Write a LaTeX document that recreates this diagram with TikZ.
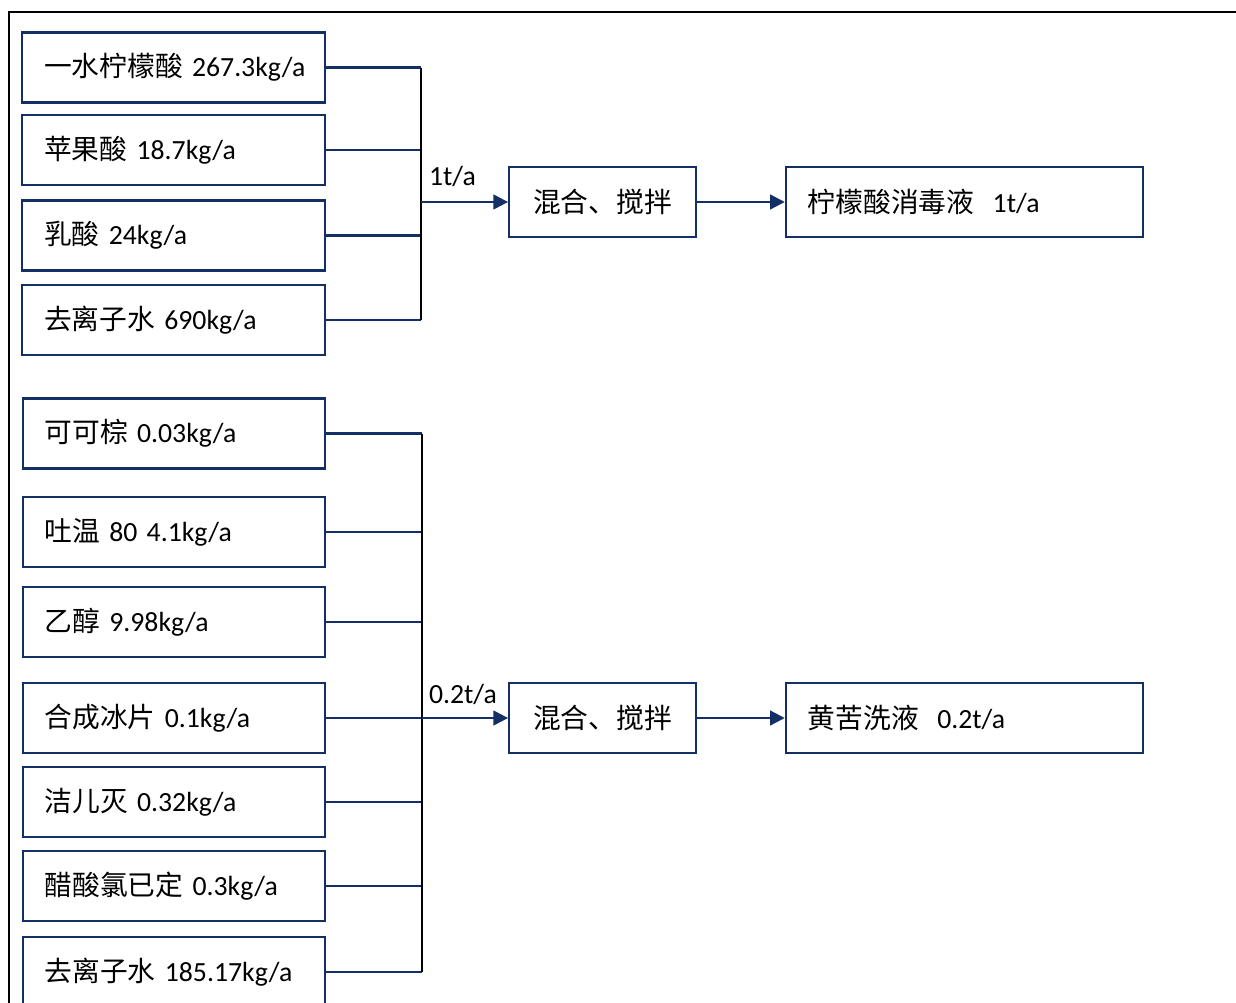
\documentclass[tikz,border=0pt]{standalone}
\usepackage{fontspec}
\setmainfont{Carlito}
\newfontfamily\cjk{Noto Sans CJK SC}
\usetikzlibrary{arrows.meta}
\definecolor{cnavy}{HTML}{142E66}
\newcommand{\zh}[1]{{\cjk #1}}
\tikzset{
  every picture/.style={line width=1.5pt, font=\fontsize{20.8}{24}\selectfont},
  inbox/.style={draw=cnavy, line width=1.6pt, text width=194pt, inner xsep=16.5pt, inner ysep=0pt, minimum height=52.5pt, align=left},
  mixbox/.style={draw=cnavy, line width=1.6pt, minimum width=140pt, minimum height=52.5pt, inner sep=0pt, align=center},
  outbox/.style={draw=cnavy, line width=1.6pt, text width=235pt, inner xsep=16.5pt, inner ysep=0pt, minimum height=52.5pt, align=left},
  link/.style={draw=cnavy, line width=1.6pt},
  bus/.style={draw=black, line width=1.8pt},
  arrow/.style={link, -{Triangle[length=11pt, width=11pt]}},
  flow/.style={anchor=base west, inner sep=0pt},
}
\begin{document}
\begin{tikzpicture}[x=0.75pt, y=-0.75pt]
  \useasboundingbox (0,0) rectangle (1236,1003);
  % frame
  \draw (9,1003) -- (9,12) -- (1236,12);

  % citric acid solution
  \foreach \y/\t [count=\i] in {67.5/{\zh{一水柠檬酸} 267.3kg/a}, 150/{\zh{苹果酸} 18.7kg/a},
      235.5/{\zh{乳酸} 24kg/a}, 320/{\zh{去离子水} 690kg/a}}
    \node[inbox] (ta\i) at (173.5,\y) {\mbox{\t}};
  \node[mixbox] (mixA) at (602.5,202) {\zh{混合、搅拌}};
  \node[outbox] (outA) at (964.5,202) {\zh{柠檬酸消毒液}\ \ 1t/a};
  \coordinate (busA) at (421,202);
  \foreach \i in {1,...,4}
    \draw[link] (ta\i.east) -- (ta\i.east -| busA);
  \draw[bus] (ta1.east -| busA) -- (ta4.east -| busA);
  \draw[arrow] (busA) -- (mixA.west);
  \draw[arrow] (mixA.east) -- (outA.west);
  \node[flow] (qA) at (428,185) {1t/a};

  % wash solution
  \foreach \y/\t [count=\i] in {433.5/{\zh{可可棕} 0.03kg/a}, 532/{\zh{吐温} 80 4.1kg/a},
      622/{\zh{乙醇} 9.98kg/a}, 718/{\zh{合成冰片} 0.1kg/a}, 802/{\zh{洁儿灭} 0.32kg/a},
      886/{\zh{醋酸氯已定} 0.3kg/a}, 972/{\zh{去离子水} 185.17kg/a}}
    \node[inbox] (tb\i) at (174,\y) {\mbox{\t}};
  \node[mixbox] (mixB) at (602.5,718) {\zh{混合、搅拌}};
  \node[outbox] (outB) at (964.5,718) {\zh{黄苦洗液}\ \ 0.2t/a};
  \coordinate (busB) at (422,718);
  \foreach \i in {1,...,7}
    \draw[link] (tb\i.east) -- (tb\i.east -| busB);
  \draw[bus] (tb1.east -| busB) -- (tb7.east -| busB);
  \draw[arrow] (busB) -- (mixB.west);
  \draw[arrow] (mixB.east) -- (outB.west);
  \node[flow] (qB) at (428,703) {0.2t/a};
\end{tikzpicture}
\end{document}
